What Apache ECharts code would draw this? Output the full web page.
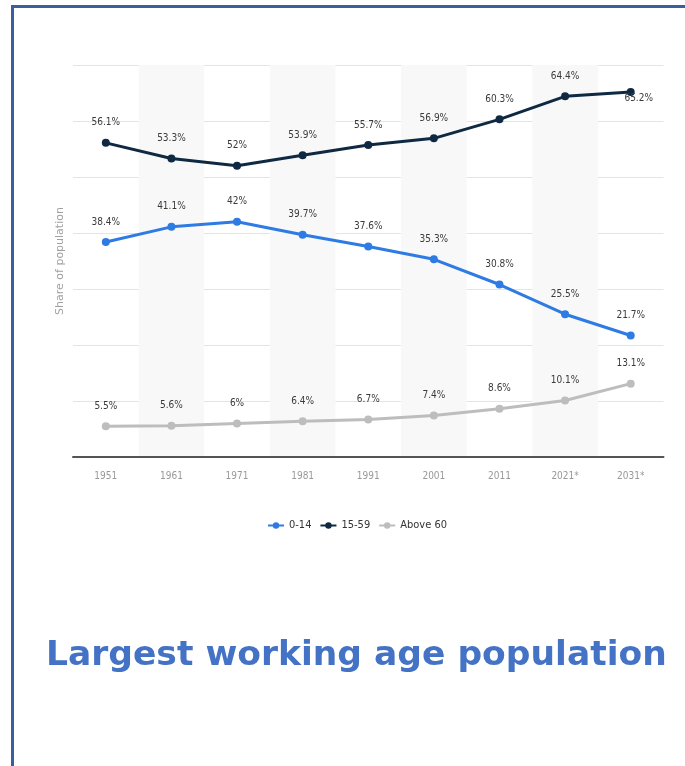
<!DOCTYPE html>
<html>
<head>
<meta charset="utf-8">
<script src="https://cdn.jsdelivr.net/npm/echarts@6/dist/echarts.min.js"></script>
<style>
  html, body { margin: 0; padding: 0; background: #fff; }
  #frame { position: absolute; left: 11px; top: 5px; width: 674px; height: 761px;
           border-left: 3px solid #3A5E9E; border-top: 3px solid #3A5E9E; box-sizing: border-box; }
  #chart { position: absolute; left: 0; top: 0; width: 685px; height: 766px; }
</style>
</head>
<body>
<div id="frame"></div>
<div id="chart"></div>
<script>
const categories = ['1951', '1961', '1971', '1981', '1991', '2001', '2011', '2021*', '2031*'];
const age0to14 = [38.4, 41.1, 42, 39.7, 37.6, 35.3, 30.8, 25.5, 21.7];
const age15to59 = [56.1, 53.3, 52, 53.9, 55.7, 56.9, 60.3, 64.4, 65.2];
const above60 = [5.5, 5.6, 6, 6.4, 6.7, 7.4, 8.6, 10.1, 13.1];
const seriesNames = ['0-14', '15-59', 'Above 60'];
const titleText = 'Largest working age population';
const yAxisName = 'Share of population';

const FONT = '"DejaVu Sans Condensed", "Liberation Sans Narrow", sans-serif';
const chart = echarts.init(document.getElementById('chart'));

function mkSeries(name, values, color, specialLast) {
  return {
    name: name,
    type: 'line',
    data: values.map((v, i) => {
      if (specialLast && i === values.length - 1) {
        return { value: v, label: { position: 'inside', offset: [8, 7] } };
      }
      return v;
    }),
    symbol: 'circle',
    symbolSize: 8,
    lineStyle: { width: 3, color: color },
    itemStyle: { color: color },
    label: {
      show: true, position: 'top', distance: 11,
      formatter: p => p.value + '%',
      fontFamily: FONT, fontSize: 10, color: '#3a3a3a'
    },
    emphasis: { disabled: true },
    animation: false
  };
}

chart.setOption({
  animation: false,
  title: {
    text: titleText,
    left: 46, top: 639, padding: 0,
    textStyle: { fontFamily: '"DejaVu Sans", sans-serif', fontWeight: 'bold', fontSize: 34.5, color: '#4472C4' }
  },
  legend: {
    top: 515, left: 262,
    itemWidth: 16, itemHeight: 8, itemGap: 8,
    textStyle: { fontFamily: FONT, fontSize: 11, color: '#333' },
    data: seriesNames
  },
  grid: { left: 73, right: 21.5, top: 65, bottom: 309 },
  xAxis: {
    type: 'category',
    data: categories,
    boundaryGap: true,
    axisLine: { lineStyle: { color: '#555', width: 2 } },
    axisTick: { show: false },
    axisLabel: { color: '#999', fontFamily: FONT, fontSize: 10, margin: 14 },
    splitArea: { show: true, areaStyle: { color: ['rgba(0,0,0,0)', '#f8f8f8'] } }
  },
  yAxis: {
    type: 'value', min: 0, max: 70, interval: 10,
    axisLabel: { show: false },
    axisLine: { show: false },
    axisTick: { show: false },
    splitLine: { lineStyle: { color: '#e4e4e4', width: 1 } },
    name: yAxisName, nameLocation: 'middle', nameGap: 7,
    nameTextStyle: { color: '#a0a0a0', fontSize: 11, fontFamily: '"DejaVu Sans", sans-serif' }
  },
  series: [
    mkSeries(seriesNames[0], age0to14, '#2E7BE3', false),
    mkSeries(seriesNames[1], age15to59, '#0F2942', true),
    mkSeries(seriesNames[2], above60, '#BDBDBD', false)
  ]
});
</script>
</body>
</html>
